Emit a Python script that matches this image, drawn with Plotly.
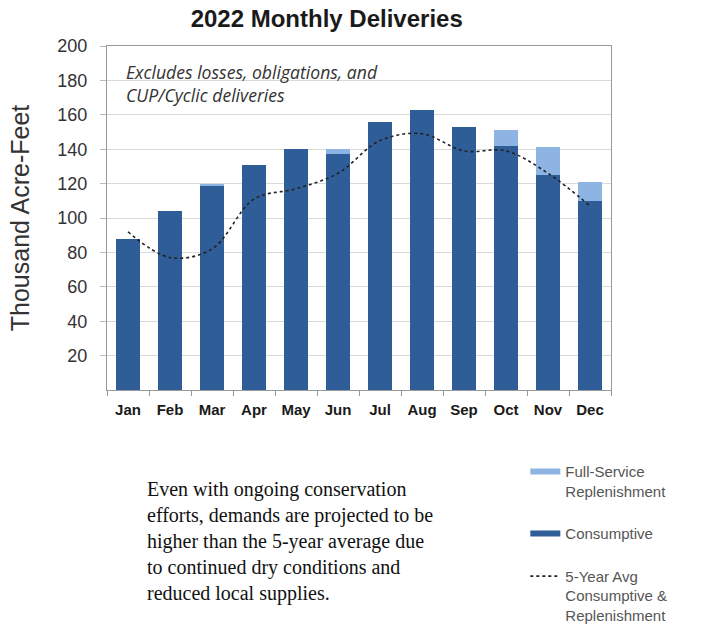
import plotly.graph_objects as go

months = ["Jan", "Feb", "Mar", "Apr", "May", "Jun", "Jul", "Aug", "Sep", "Oct", "Nov", "Dec"]
consumptive = [88, 104, 119, 131, 140, 137, 156, 163, 153, 142, 125, 110]
replenishment = [0, 0, 0.8, 0, 0, 3, 0, 0, 0, 9, 16, 11]
avg5 = [92, 77, 82, 111, 117, 126, 145, 149, 139, 139, 126, 107]
yticks = [20, 40, 60, 80, 100, 120, 140, 160, 180, 200]

DARK = "#2F5D97"
LIGHT = "#8DB4E2"
LINE = "#222222"

fig = go.Figure()
fig.add_trace(go.Bar(x=months, y=consumptive, name="Consumptive", marker_color=DARK,
                     marker_line_width=0, showlegend=False))
fig.add_trace(go.Bar(x=months, y=replenishment, name="Full-Service Replenishment",
                     marker_color=LIGHT, marker_line_width=0, showlegend=False))
fig.add_trace(go.Scatter(x=months, y=avg5, mode="lines", line_shape="spline",
                         name="5-Year Avg", showlegend=False,
                         line=dict(color=LINE, width=1.6, dash="dot")))

# legend entries (wide rectangular swatches like the original)
fig.add_trace(go.Scatter(x=[None], y=[None], mode="lines", name="Full-Service<br>Replenishment",
                         line=dict(color=LIGHT, width=6), legendgroup="a", legendrank=1))
fig.add_trace(go.Scatter(x=[None], y=[None], mode="lines", name="Consumptive",
                         line=dict(color=DARK, width=6), legendgroup="b", legendrank=2))
fig.add_trace(go.Scatter(x=[None], y=[None], mode="lines",
                         name="5-Year Avg<br>Consumptive &<br>Replenishment",
                         line=dict(color=LINE, width=1.6, dash="dot"), legendgroup="c", legendrank=3))

fig.update_layout(
    width=718, height=629,
    margin=dict(l=107, r=107, t=46, b=239, autoexpand=False),
    barmode="stack", bargap=0.43,
    plot_bgcolor="white", paper_bgcolor="white",
    showlegend=True,
    font=dict(family="Arial, Liberation Sans, sans-serif", color="#333333"),
    title=dict(text="<b>2022 Monthly Deliveries</b>", x=0.455, xanchor="center", y=0.971, yanchor="middle",
               font=dict(size=24, color="#1a1a1a")),
    legend=dict(x=0.83, xanchor="left", y=-0.19, yanchor="top", valign="top",
                font=dict(size=15, color="#555555"), itemwidth=30, tracegroupgap=20,
                bgcolor="rgba(0,0,0,0)", traceorder="grouped"),
    xaxis=dict(showline=True, linecolor="#999999", linewidth=1, mirror=True,
               ticks="outside", ticklen=5, tickcolor="#999999", tickson="boundaries",
               ticklabelstandoff=6,
               tickfont=dict(size=15, color="#1a1a1a", weight="bold"),
               showgrid=False),
    yaxis=dict(range=[0, 200], tickvals=yticks, showline=True, linecolor="#999999", linewidth=1,
               mirror=True, ticks="outside", ticklen=6, tickcolor="#bbbbbb",
               ticklabelstandoff=9,
               showgrid=True, gridcolor="#d9d9d9", gridwidth=1,
               tickfont=dict(size=18, color="#333333"),
               title=dict(text="Thousand Acre-Feet", font=dict(size=25, color="#333333"), standoff=20)),
)

fig.add_annotation(xref="paper", yref="paper", x=0.034, y=0.966, xanchor="left", yanchor="top",
                   align="left", showarrow=False,
                   text="<i>Excludes losses, obligations, and<br>CUP/Cyclic deliveries</i>",
                   font=dict(size=17.6, color="#333333", family="Open Sans, sans-serif"))

fig.add_annotation(xref="paper", yref="paper", x=0.075, y=-0.25, xanchor="left", yanchor="top",
                   align="left", showarrow=False,
                   text="Even with ongoing conservation<br>efforts, demands are projected to be<br>"
                        "higher than the 5-year average due<br>to continued dry conditions and<br>"
                        "reduced local supplies.",
                   font=dict(size=20, color="#111111", family="Liberation Serif, Times New Roman, serif"))

fig.write_html("out.html")
